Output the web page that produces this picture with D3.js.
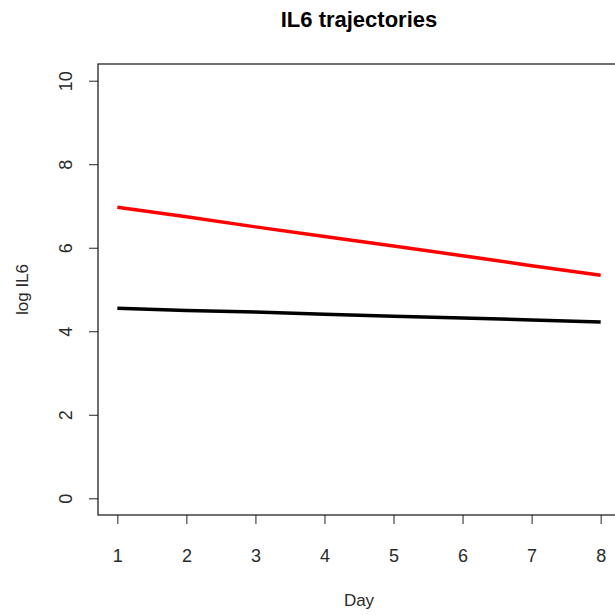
<!DOCTYPE html>
<html>
<head>
<meta charset="utf-8">
<script src="https://cdn.jsdelivr.net/npm/d3@7"></script>
<style>
  body { margin: 0; background: #fff; }
  svg text { font-family: "Liberation Sans", Arial, sans-serif; fill: #2a2a2a; }
</style>
</head>
<body>
<div id="chart"></div>
<script>
// chart data
var days = [1, 2, 3, 4, 5, 6, 7, 8];
var redSeries = [6.97, 6.74, 6.50, 6.27, 6.04, 5.81, 5.57, 5.34];
var blackSeries = [4.55, 4.50, 4.46, 4.41, 4.36, 4.32, 4.27, 4.22];
var yTicks = [0, 2, 4, 6, 8, 10];

var width = 615;
var height = 615;

// plot box edges (box runs past the right edge like the original)
var boxLeft = 98, boxRight = 620, boxTop = 64, boxBottom = 515;

var svg = d3
  .select("#chart")
  .append("svg")
  .attr("width", width)
  .attr("height", height);

// R style 4% padding on the ranges
var x = d3.scaleLinear().domain([0.72, 8.28]).range([boxLeft, boxRight]);
var y = d3.scaleLinear().domain([-0.4, 10.4]).range([boxBottom, boxTop]);

// x axis
var xAxis = svg
  .append("g")
  .attr("transform", "translate(0," + boxBottom + ")")
  .call(d3.axisBottom(x).tickValues(days).tickSize(9).tickPadding(25).tickFormat(d3.format("d")));
xAxis.select(".domain").remove();
xAxis.selectAll("line").attr("stroke", "#222");
xAxis.selectAll("text").style("font-size", "18px");

// y axis, labels turned like base R
var yAxis = svg
  .append("g")
  .attr("transform", "translate(" + boxLeft + ",0)")
  .call(d3.axisLeft(y).tickValues(yTicks).tickSize(9));
yAxis.select(".domain").remove();
yAxis.selectAll("line").attr("stroke", "#222");
yAxis
  .selectAll("text")
  .attr("x", 0)
  .attr("y", 0)
  .attr("dy", "0.35em")
  .attr("text-anchor", "middle")
  .attr("transform", "translate(-32,0) rotate(-90)")
  .style("font-size", "18px");

// plot box
svg
  .append("rect")
  .attr("x", boxLeft)
  .attr("y", boxTop)
  .attr("width", boxRight - boxLeft)
  .attr("height", boxBottom - boxTop)
  .attr("fill", "none")
  .attr("stroke", "#111")
  .attr("stroke-width", 1.2);

var line = d3
  .line()
  .x(function (d, i) { return x(days[i]); })
  .y(function (d) { return y(d); });

svg
  .append("path")
  .datum(redSeries)
  .attr("d", line)
  .attr("fill", "none")
  .attr("stroke", "#ff0000")
  .attr("stroke-width", 3.5);

svg
  .append("path")
  .datum(blackSeries)
  .attr("d", line)
  .attr("fill", "none")
  .attr("stroke", "#000")
  .attr("stroke-width", 3.5);

// titles
svg
  .append("text")
  .attr("x", (boxLeft + boxRight) / 2)
  .attr("y", 27)
  .attr("text-anchor", "middle")
  .style("font-size", "22px")
  .style("font-weight", "bold")
  .style("fill", "#000")
  .text("IL6 trajectories");

svg
  .append("text")
  .attr("x", (boxLeft + boxRight) / 2)
  .attr("y", 606)
  .attr("text-anchor", "middle")
  .style("font-size", "17px")
  .text("Day");

svg
  .append("text")
  .attr("transform", "translate(28," + (boxTop + boxBottom) / 2 + ") rotate(-90)")
  .attr("text-anchor", "middle")
  .style("font-size", "17px")
  .text("log IL6");
</script>
</body>
</html>
